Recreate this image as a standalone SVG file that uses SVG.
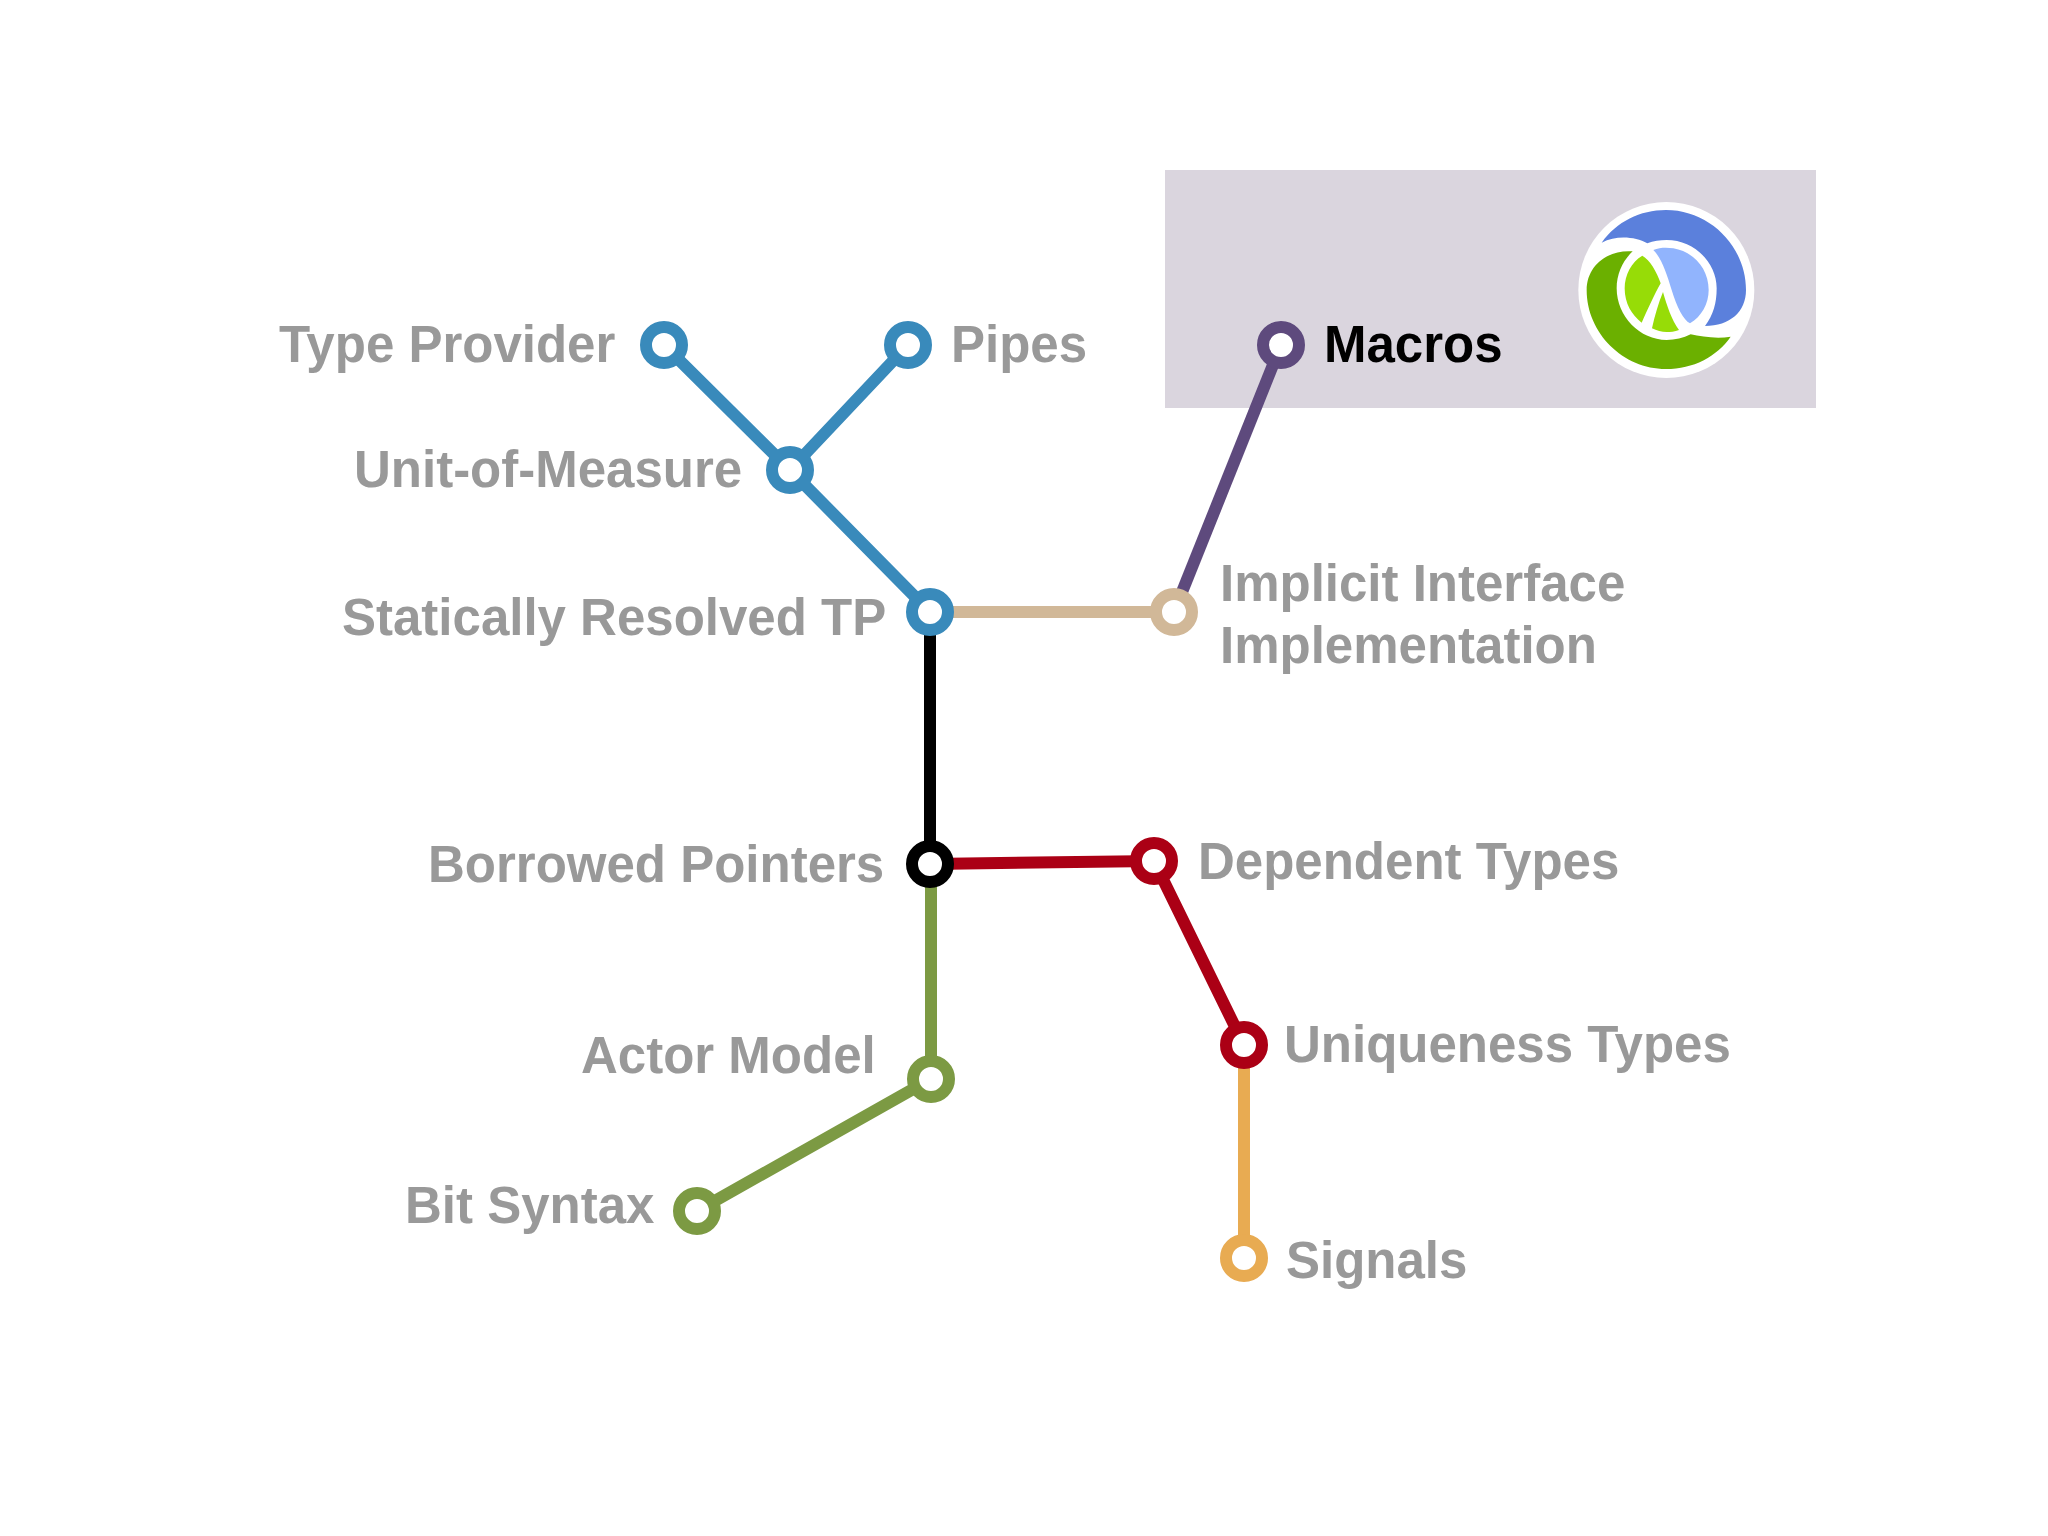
<svg xmlns="http://www.w3.org/2000/svg" width="2048" height="1536" viewBox="0 0 2048 1536">
<style>
text{font-family:"Liberation Sans",Arial,sans-serif;font-weight:700;font-size:51px;fill:#999999}
.n{fill:#fff;stroke-width:12}
.l{fill:none;stroke-width:12}
</style>
<rect width="2048" height="1536" fill="#fff"/>
<rect id="highlight" x="1165" y="170" width="651" height="238" fill="#dad5de"/>
<g id="logo" transform="translate(1560,190) scale(.33333)">
<circle cx="319" cy="300" r="264" fill="#fff"/>
<path fill="#5b80dc" d="M125,158C170,95 240,60 318,60C450,60 558,170 558,300C558,365 510,408 435,408C460,375 470,340 470,295C470,215 400,150 320,150C300,150 280,152 262,160C225,140 170,135 125,158Z"/>
<path fill="#91b4fd" d="M280,180C300,172 320,172 340,175C400,185 446,235 446,300C446,340 425,380 390,400C370,390 350,350 335,300C320,250 305,205 280,180Z"/>
<path fill="#6bb000" d="M218,184C140,178 80,230 80,300C80,430 190,537 318,537C400,537 470,500 512,440C470,447 425,440 392,433C370,445 345,450 320,450C240,450 170,380 170,295C170,250 190,210 218,184Z"/>
<path fill="#97dc07" d="M247,197C270,210 290,245 302,280C285,310 262,360 245,398C215,375 194,340 194,295C194,255 215,215 247,197Z"/>
<path fill="#97dc07" d="M309,306C320,345 335,390 357,420C345,425 330,426 320,426C305,426 290,422 276,415C285,375 295,340 309,306Z"/>
</g>
<g id="connectors">
<path class="l" stroke="#398abb" d="M664,345L790,470L930,612M908,345L790,470"/>
<path class="l" stroke="#d1b898" d="M930,612H1174"/>
<path class="l" stroke="#5e4a7d" d="M1281,345L1174,612"/>
<path class="l" stroke="#000" d="M930,612V864"/>
<path class="l" stroke="#ab0015" d="M930,864L1154,861L1244,1045"/>
<path class="l" stroke="#7c9a43" d="M931,864V1079L697,1211"/>
<path class="l" stroke="#e8ab52" d="M1244,1045V1258"/>
</g>
<g id="type-provider"><circle class="n" cx="664" cy="345" r="18" stroke="#398abb"/><text x="279" y="362">Type Provider</text></g>
<g id="pipes"><circle class="n" cx="908" cy="345" r="18" stroke="#398abb"/><text x="951" y="362">Pipes</text></g>
<g id="macros"><circle class="n" cx="1281" cy="345" r="18" stroke="#5e4a7d"/><text x="1324" y="362" style="fill:#000">Macros</text></g>
<g id="unit-of-measure"><circle class="n" cx="790" cy="470" r="18" stroke="#398abb"/><text x="354" y="487">Unit-of-Measure</text></g>
<g id="statically-resolved-tp"><circle class="n" cx="930" cy="612" r="18" stroke="#398abb"/><text x="342" y="635">Statically Resolved TP</text></g>
<g id="implicit-interface"><circle class="n" cx="1174" cy="612" r="18" stroke="#d1b898"/><text x="1220" y="601">Implicit Interface</text><text x="1220" y="663">Implementation</text></g>
<g id="borrowed-pointers"><circle class="n" cx="930" cy="864" r="18" stroke="#000"/><text x="428" y="882">Borrowed Pointers</text></g>
<g id="dependent-types"><circle class="n" cx="1154" cy="861" r="18" stroke="#ab0015"/><text x="1198" y="879">Dependent Types</text></g>
<g id="uniqueness-types"><circle class="n" cx="1244" cy="1045" r="18" stroke="#ab0015"/><text x="1284" y="1062">Uniqueness Types</text></g>
<g id="actor-model"><circle class="n" cx="931" cy="1079" r="18" stroke="#7c9a43"/><text x="581" y="1073">Actor Model</text></g>
<g id="bit-syntax"><circle class="n" cx="697" cy="1211" r="18" stroke="#7c9a43"/><text x="405" y="1223">Bit Syntax</text></g>
<g id="signals"><circle class="n" cx="1244" cy="1258" r="18" stroke="#e8ab52"/><text x="1286" y="1278">Signals</text></g>
</svg>
